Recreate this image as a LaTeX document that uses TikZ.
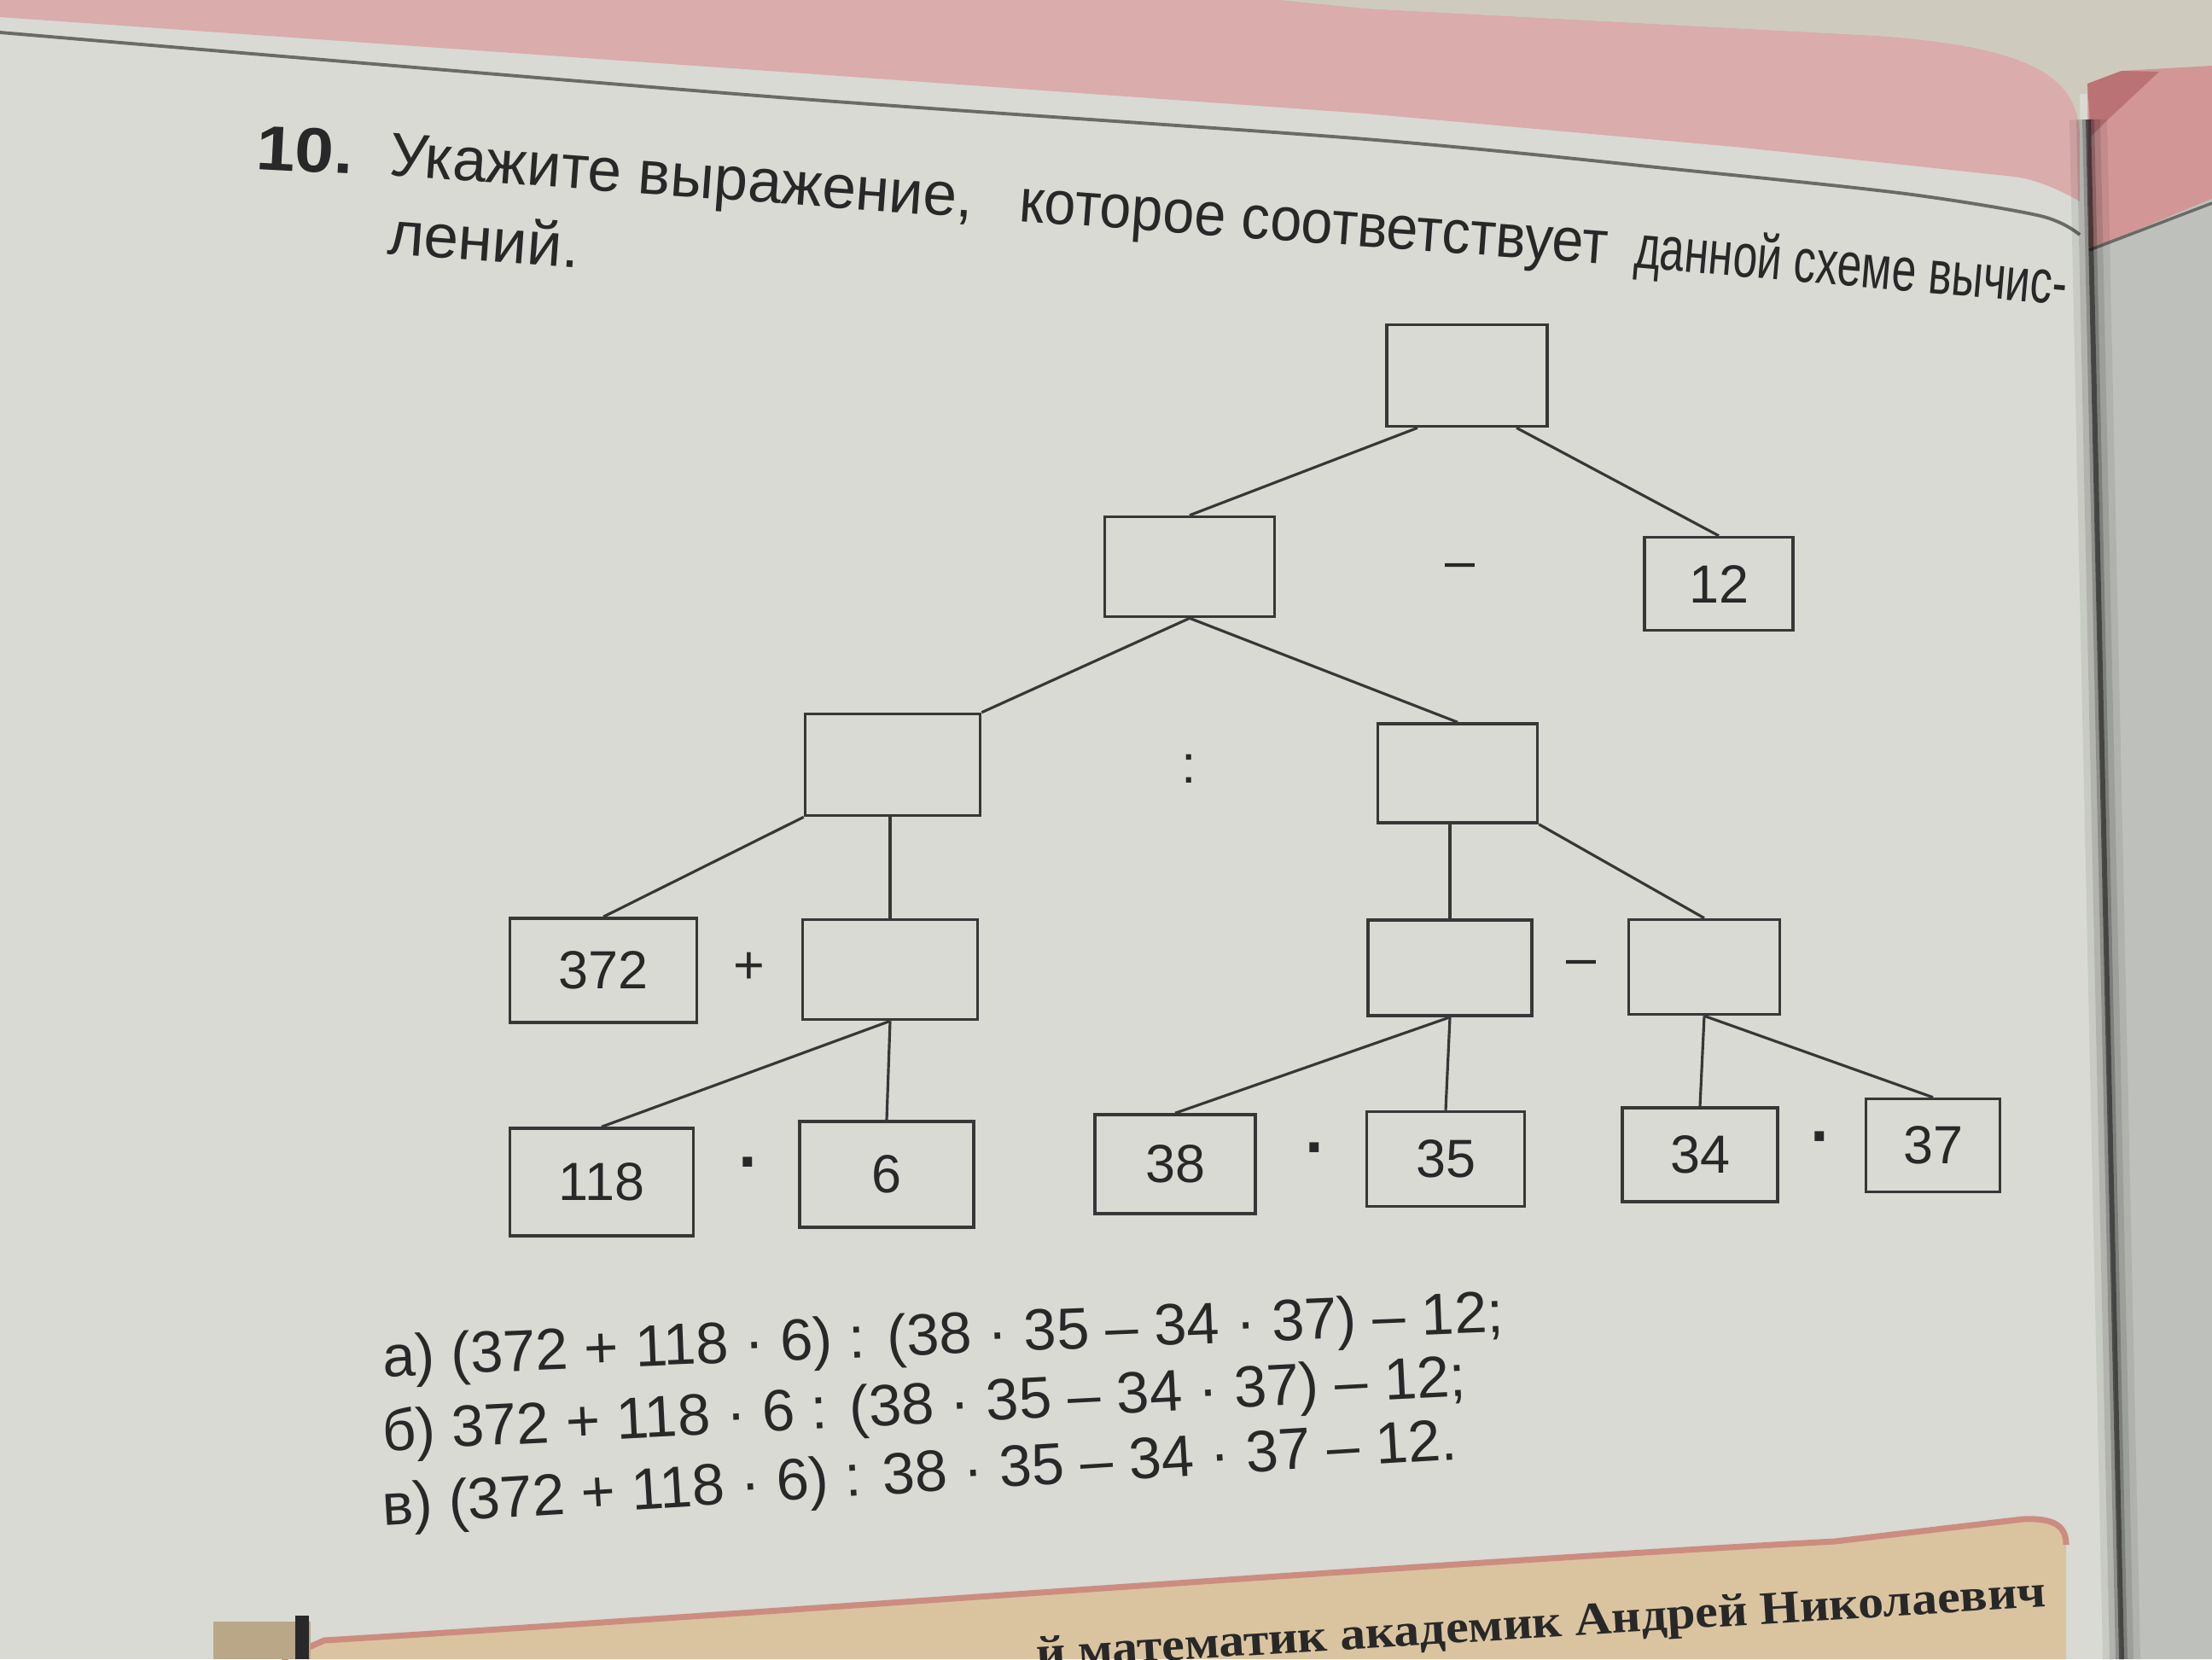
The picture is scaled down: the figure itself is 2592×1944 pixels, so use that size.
\documentclass[tikz,border=0pt]{standalone}
\usepackage{fontspec}
\setmainfont{Liberation Sans}
\newfontfamily\bserif{Liberation Serif}
\newcommand\fitw[2]{\resizebox{#1}{\height}{#2}}
\definecolor{pagec}{RGB}{216,218,211}
\definecolor{pinkc}{RGB}{218,172,172}
\definecolor{tablec}{RGB}{206,203,190}
\definecolor{rpagec}{RGB}{190,193,187}
\definecolor{rpinkc}{RGB}{210,150,150}
\definecolor{rdark}{RGB}{170,90,95}
\definecolor{bandc}{RGB}{218,196,160}
\definecolor{bandedge}{RGB}{205,140,128}
\definecolor{ink}{RGB}{40,40,40}
\definecolor{linec}{RGB}{55,55,55}
\definecolor{framec}{RGB}{105,107,103}
\begin{document}
\begin{tikzpicture}[x=0.01cm,y=-0.01cm,
  bx/.style={draw=linec, line width=1pt, inner sep=0pt, text=ink,
             font=\fontsize{17.9}{20}\selectfont},
  ln/.style={draw=linec, line width=0.9pt},
  opn/.style={inner sep=0pt, text=ink, font=\fontsize{17.9}{20}\selectfont},
  dotn/.style={inner sep=0pt, text=ink, font=\bfseries\fontsize{22}{24}\selectfont},
  txt/.style={anchor=base west, inner sep=0pt, outer sep=0pt, text=ink},
  ttl/.style={txt, rotate=-4.2, font=\fontsize{20.5}{24}\selectfont}]
\useasboundingbox (0,0) rectangle (2592,1944);
% ---------- background ----------
\fill[pagec] (0,0) rectangle (2592,1944);
\fill[tablec] (1500,0) -- (2592,0) -- (2592,110) -- (2437,110) -- (2437,160)
  .. controls (2436,90) and (2380,55) .. (2200,42) -- (1600,10) -- cycle;
\fill[pinkc] (0,0) -- (1500,0) -- (1600,10) -- (2200,42)
  .. controls (2380,55) and (2436,90) .. (2437,160) -- (2437,236)
  .. controls (2410,220) and (2380,209) .. (2360,207)
  -- (2043,173) -- (1600,133) -- (900,83) -- (0,20) -- cycle;
\draw[framec, line width=1.1pt] plot[smooth] coordinates
  {(0,38) (900,113) (1600,163) (1980,200) (2233,227) (2391,253) (2437,275)};
\fill[rpinkc] (2446,98) -- (2486,83) -- (2592,77) -- (2592,233) -- (2448,293) -- cycle;
\fill[rdark, opacity=0.6] (2446,98) -- (2486,83) -- (2530,84) -- (2470,140) -- (2450,160) -- cycle;
\fill[rpagec] (2448,293) -- (2592,233) -- (2592,1944) -- (2485,1944) -- cycle;
\draw[framec, line width=1pt] (2448,293) -- (2592,238);
\foreach \w/\o in {44/0.07,28/0.11,14/0.2,6/0.45}
  \draw[black, opacity=\o, line width=\w*0.2845pt] (2447,140) -- (2486,1944);
% bottom band
\fill[bandc] (330,1944) -- (380,1922) .. controls (900,1890) and (1700,1830) .. (2150,1806)
  -- (2370,1780) .. controls (2410,1778) and (2421,1790) .. (2421,1810) -- (2421,1944) -- cycle;
\draw[bandedge, line width=2pt] (330,1944) -- (380,1922) .. controls (900,1890) and (1700,1830) .. (2150,1806)
  -- (2370,1780) .. controls (2410,1778) and (2421,1790) .. (2421,1810);
\fill[bandc!85!black] (250,1900) rectangle (364,1944);
\fill[ink] (346,1893) rectangle (362,1944);
\node[txt, rotate=3.5] (band) at (1215,1955)
  {\bserif\bfseries\fontsize{15.5}{18}\selectfont\fitw{11.85cm}{й математик академик Андрей Николаевич}};
% ---------- title ----------
\node[txt, rotate=-3, font=\bfseries\fontsize{21}{24}\selectfont] (num) at (299,198) {\fitw{1.14cm}{10.}};
\node[ttl] (t1a) at (455,205) {\fitw{6.86cm}{Укажите выражение,}};
\node[ttl] (t1b) at (1193,259) {\fitw{6.91cm}{которое соответствует}};
\node[ttl, rotate=-0.8] (t1c) at (1914,313) {\fitw{5.08cm}{данной схеме вычис-}};
\node[ttl] (t2) at (453,297) {\fitw{2.25cm}{лений.}};
% ---------- tree ----------
\node[bx, minimum width=1.88cm, minimum height=1.19cm] (root) at (1719,440) {};
\node[bx, minimum width=1.99cm, minimum height=1.17cm] (m) at (1394,664) {};
\node[bx, minimum width=1.74cm, minimum height=1.09cm] (c12) at (2014,684) {12};
\node[bx, minimum width=2.05cm, minimum height=1.19cm] (pl) at (1046,896) {};
\node[bx, minimum width=1.87cm, minimum height=1.16cm] (pr) at (1708,906) {};
\node[bx, minimum width=2.19cm, minimum height=1.22cm] (n372) at (707,1137) {372};
\node[bx, minimum width=2.05cm, minimum height=1.17cm] (pm) at (1043,1136) {};
\node[bx, minimum width=1.92cm, minimum height=1.12cm] (dl) at (1699,1134) {};
\node[bx, minimum width=1.77cm, minimum height=1.11cm] (dr) at (1997,1133) {};
\node[bx, minimum width=2.15cm, minimum height=1.26cm] (n118) at (705,1385) {118};
\node[bx, minimum width=2.04cm, minimum height=1.24cm] (n6) at (1039,1376) {6};
\node[bx, minimum width=1.88cm, minimum height=1.16cm] (n38) at (1377,1364) {38};
\node[bx, minimum width=1.85cm, minimum height=1.11cm] (n35) at (1694,1358) {35};
\node[bx, minimum width=1.82cm, minimum height=1.10cm] (n34) at (1992,1353) {34};
\node[bx, minimum width=1.57cm, minimum height=1.09cm] (n37) at (2265,1342) {37};
% operators
\node[opn] (o1) at (1711,669) {–};
\node[opn] (o2) at (1393,901) {:};
\node[opn] (o3) at (878,1134) {+};
\node[opn] (o4) at (1853,1134) {–};
\node[dotn] (o5) at (878,1372) {·};
\node[dotn] (o6) at (1542,1355) {·};
\node[dotn] (o7) at (2134,1342) {·};
% connectors
\draw[ln] ([xshift=-0.58cm]root.south) -- (m.north);
\draw[ln] ([xshift=0.58cm]root.south) -- (c12.north);
\draw[ln] (m.south) -- (pl.north east);
\draw[ln] (m.south) -- (pr.north);
\draw[ln] (pl.south west) -- (n372.north);
\draw[ln] (pm.north |- pl.south) -- (pm.north);
\draw[ln] (dl.north |- pr.south) -- (dl.north);
\draw[ln] (pr.south east) -- (dr.north);
\draw[ln] (pm.south) -- (n118.north);
\draw[ln] (pm.south) -- (n6.north);
\draw[ln] (dl.south) -- (n38.north);
\draw[ln] (dl.south) -- (n35.north);
\draw[ln] (dr.south) -- (n34.north);
\draw[ln] (dr.south) -- (n37.north);
% ---------- answers ----------
\node[txt, rotate=2.3, font=\fontsize{19.5}{22}\selectfont] (ansa) at (449,1613)
  {\fitw{13.14cm}{а) (372 + 118 · 6) : (38 · 35 – 34 · 37) – 12;}};
\node[txt, rotate=2.9, font=\fontsize{19.5}{22}\selectfont] (ansb) at (449,1700)
  {\fitw{12.71cm}{б) 372 + 118 · 6 : (38 · 35 – 34 · 37) – 12;}};
\node[txt, rotate=3.5, font=\fontsize{19.5}{22}\selectfont] (ansc) at (449,1787)
  {\fitw{12.61cm}{в) (372 + 118 · 6) : 38 · 35 – 34 · 37 – 12.}};
\end{tikzpicture}
\end{document}
